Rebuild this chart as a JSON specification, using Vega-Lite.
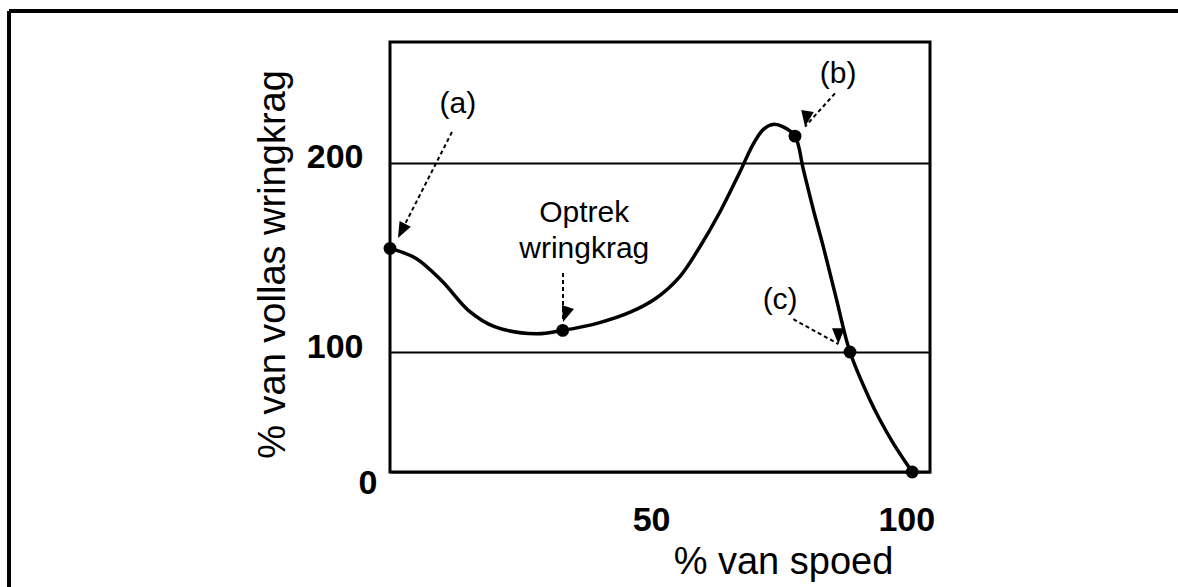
{
  "$schema": "https://vega.github.io/schema/vega-lite/v6.json",
  "autosize": {"type": "none"},
  "padding": {"left": 390, "top": 42, "right": 248, "bottom": 115},
  "width": 540,
  "height": 430,
  "background": "white",
  "config": {
    "font": "Liberation Sans",
    "view": {"stroke": "black", "strokeWidth": 3}
  },
  "datasets": {
    "curve": [
      {"x": 0, "y": 154.7}, {"x": 5, "y": 149.4}, {"x": 10, "y": 137.3}, {"x": 15, "y": 122.0},
      {"x": 20, "y": 113.4}, {"x": 28, "y": 109.6},
      {"x": 33.07, "y": 111.4}, {"x": 40, "y": 115.4}, {"x": 46, "y": 121.0}, {"x": 51, "y": 128.5},
      {"x": 55.5, "y": 139.8}, {"x": 59.4, "y": 155.8}, {"x": 63.2, "y": 174.0}, {"x": 67.0, "y": 195.0},
      {"x": 69.5, "y": 209.5}, {"x": 71.5, "y": 217.5}, {"x": 73.3, "y": 220.1}, {"x": 75.3, "y": 218.8},
      {"x": 77.55, "y": 213.9}, {"x": 79.14, "y": 196.4}, {"x": 81.05, "y": 175.2}, {"x": 82.97, "y": 155.6},
      {"x": 85.53, "y": 127.4}, {"x": 88.08, "y": 100.0}, {"x": 91.91, "y": 60.0},
      {"x": 93.83, "y": 43.3}, {"x": 96.37, "y": 23.9}, {"x": 100, "y": 0}
    ],
    "dots": [
      {"x": 0, "y": 154.7}, {"x": 33.07, "y": 111.4}, {"x": 77.55, "y": 213.9}, {"x": 88.08, "y": 100.0}, {"x": 100, "y": 0}
    ],
    "arrows": [
      {"id": "a", "x": 11.87, "y": 216.1, "x2": 1.53, "y2": 160.2},
      {"id": "opt", "x": 33.13, "y": 141.7, "x2": 33.13, "y2": 115.8},
      {"id": "b", "x": 85.2, "y": 236.5, "x2": 79.47, "y2": 218.9},
      {"id": "c", "x": 77.23, "y": 117.3, "x2": 85.85, "y2": 104.2}
    ],
    "labels": [
      {"x": 13.0, "y": 226.1, "text": "(a)"},
      {"x": 85.8, "y": 241.8, "text": "(b)"},
      {"x": 74.7, "y": 122.5, "text": "(c)"},
      {"x": 37.2, "y": 168.6, "text": "Optrek"},
      {"x": 37.2, "y": 149.6, "text": "wringkrag"}
    ],
    "frame": [
      {"x": -72.95, "y": 280, "x2": 160, "y2": 280},
      {"x": -72.95, "y": 280, "x2": -72.95, "y2": -100}
    ]
  },
  "encoding": {
    "x": {
      "field": "x", "type": "quantitative",
      "scale": {"domain": [0, 103.4], "nice": false, "zero": false},
      "axis": {
        "values": [50, 100],
        "title": "% van spoed",
        "domain": false, "ticks": false, "tickSize": 0, "grid": false,
        "labelFontSize": 34, "labelFontWeight": "bold", "labelColor": "black",
        "labelBaseline": "alphabetic", "labelPadding": 58,
        "labelOffset": {"condition": {"test": "datum.value == 100", "value": -6}, "value": 0},
        "titleFontSize": 38, "titleFontWeight": "normal", "titleColor": "black",
        "titleX": 393, "titleY": 101, "titleAlign": "center", "titleBaseline": "alphabetic"
      }
    },
    "y": {
      "field": "y", "type": "quantitative",
      "scale": {"domain": [0, 100, 200, 263.6], "range": [430, 310, 120.5, 0], "nice": false, "zero": false},
      "axis": {
        "values": [0, 100, 200],
        "title": "% van vollas wringkrag",
        "domain": false, "ticks": false, "tickSize": 0,
        "grid": true, "gridColor": "black", "gridWidth": 2, "gridOpacity": 1,
        "labelFontSize": 34, "labelFontWeight": "bold", "labelColor": "black",
        "labelBaseline": "alphabetic",
        "labelOffset": {"condition": {"test": "datum.value == 0", "value": 21}, "value": 5},
        "labelPadding": {"condition": {"test": "datum.value == 0", "value": 13}, "value": 27},
        "titleFontSize": 38, "titleFontWeight": "normal", "titleColor": "black",
        "titleX": -117, "titleY": 222, "titleAngle": -90, "titleAlign": "center", "titleBaseline": "middle"
      }
    }
  },
  "layer": [
    {
      "data": {"name": "curve"},
      "mark": {"type": "line", "interpolate": "catmull-rom", "color": "black", "strokeWidth": 3.5}
    },
    {
      "data": {"name": "dots"},
      "mark": {"type": "point", "shape": "circle", "filled": true, "color": "black", "opacity": 1, "size": 165}
    },
    {
      "data": {"name": "arrows"},
      "mark": {"type": "rule", "color": "black", "strokeWidth": 2, "strokeDash": [4, 3]},
      "encoding": {"x2": {"field": "x2"}, "y2": {"field": "y2"}}
    },
    {
      "data": {"name": "arrows"},
      "mark": {"type": "point", "shape": "M0,0L-0.4,1L0.4,1Z", "filled": true, "color": "black", "opacity": 1, "size": 1000, "strokeWidth": 0},
      "encoding": {
        "x": {"field": "x2", "type": "quantitative"},
        "y": {"field": "y2", "type": "quantitative"},
        "angle": {"field": "id", "type": "nominal", "scale": {"domain": ["a", "opt", "b", "c"], "range": [207, 180, 222, 119]}, "legend": null}
      }
    },
    {
      "data": {"name": "labels"},
      "mark": {"type": "text", "fontSize": 30, "color": "black", "align": "center", "baseline": "alphabetic", "font": "Liberation Sans"},
      "encoding": {"text": {"field": "text"}}
    },
    {
      "data": {"name": "frame"},
      "mark": {"type": "rule", "color": "black", "strokeWidth": 4},
      "encoding": {"x2": {"field": "x2"}, "y2": {"field": "y2"}}
    }
  ]
}
